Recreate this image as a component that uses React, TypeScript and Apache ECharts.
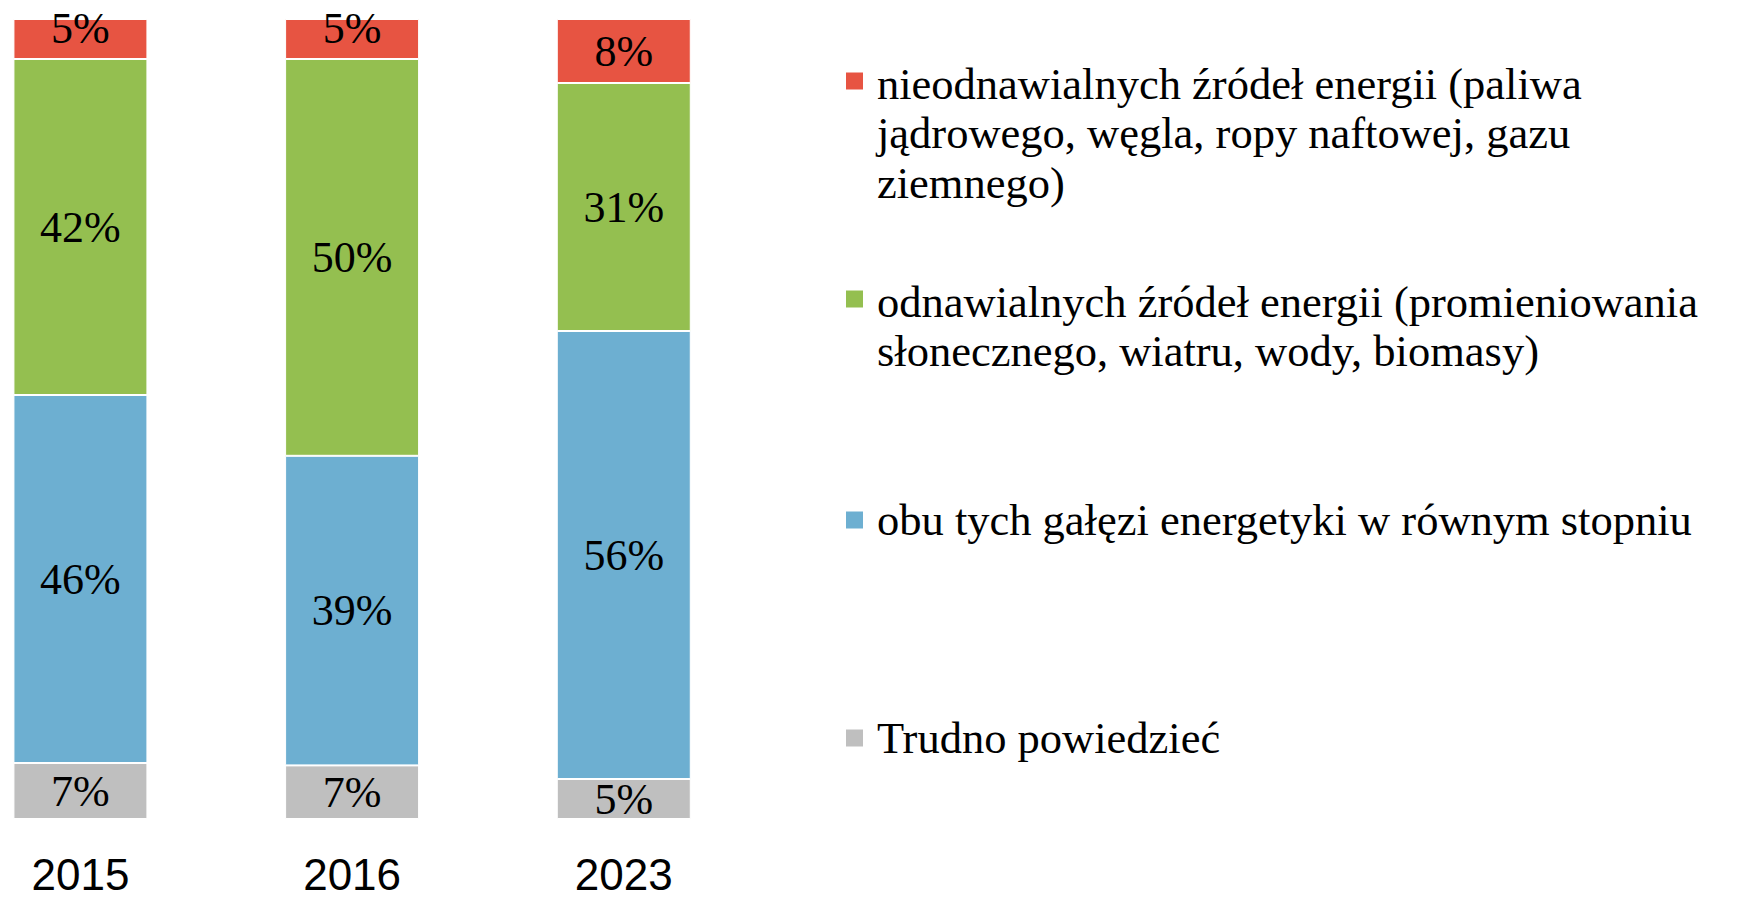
import React, { useEffect, useRef } from "react";
import * as echarts from "echarts";

const categories = ["2015", "2016", "2023"];
const seriesNames = [
  "nieodnawialnych źródeł energii (paliwa jądrowego, węgla, ropy naftowej, gazu ziemnego)",
  "odnawialnych źródeł energii (promieniowania słonecznego, wiatru, wody, biomasy)",
  "obu tych gałęzi energetyki w równym stopniu",
  "Trudno powiedzieć",
];
const legendLines = [
  ["nieodnawialnych źródeł energii (paliwa", "jądrowego, węgla, ropy naftowej, gazu", "ziemnego)"],
  ["odnawialnych źródeł energii (promieniowania", "słonecznego, wiatru, wody, biomasy)"],
  ["obu tych gałęzi energetyki w równym stopniu"],
  ["Trudno powiedzieć"],
];
const nonRenewable = [5, 5.0, 8];
const renewable = [42, 49.6, 31];
const both = [46, 38.7, 56];
const hardToSay = [7, 6.7, 5];
const colors = ["#E75442", "#94BF50", "#6DAFD1", "#BFBFBF"];

const SERIF = "'Liberation Serif', 'DejaVu Serif', serif";
const FS = 44.5;
const LH = 49.5;

export default function App() {
  const ref = useRef<HTMLDivElement>(null);
  useEffect(() => {
    if (!ref.current) return;
    const chart = echarts.init(ref.current, undefined, { renderer: "svg" });
    const mk = (idx: number, data: number[], offsets?: number[]) => ({
      name: seriesNames[idx],
      type: "bar",
      stack: "total",
      data: offsets
        ? data.map((v, i) => ({ value: v, label: { offset: [0, offsets[i]] } }))
        : data,
      barWidth: 134,
      itemStyle: { color: colors[idx], borderColor: "#ffffff", borderWidth: 1 },
      label: {
        show: true,
        position: "inside",
        formatter: (p: any) => Math.round(p.value) + "%",
        fontFamily: SERIF,
        fontSize: 44,
        color: "#000000",
      },
    });
    const legendTop = [59, 277, 495, 713];
    const squareCenter = [81, 299, 520, 738];
    const graphic: any[] = [];
    legendLines.forEach((lines, i) => {
      graphic.push({
        type: "rect",
        left: 846,
        top: squareCenter[i] - 8.5,
        shape: { width: 17, height: 17 },
        style: { fill: colors[i] },
      });
      graphic.push({
        type: "text",
        left: 877,
        top: legendTop[i],
        style: {
          text: lines.join("\n"),
          font: `${FS}px ${SERIF}`,
          lineHeight: LH,
          fill: "#000000",
        },
      });
    });
    chart.setOption({
      animation: false,
      grid: { left: -55.4, width: 815, top: 19, bottom: 81, outerBoundsMode: "none", containLabel: false },
      xAxis: {
        type: "category",
        data: categories,
        axisLine: { show: false },
        axisTick: { show: false },
        axisLabel: {
          margin: 33,
          fontSize: 44,
          fontFamily: "'Liberation Sans Narrow', 'Liberation Sans', Arial, sans-serif",
          color: "#000000",
        },
      },
      yAxis: { type: "value", min: 0, max: 100, show: false },
      series: [mk(3, hardToSay), mk(2, both), mk(1, renewable), mk(0, nonRenewable, [-11, -11, 0])],
      graphic,
    });
    return () => chart.dispose();
  }, []);
  return (
    <div
      ref={ref}
      style={{ position: "fixed", left: 0, top: 0, width: 1752, height: 900, background: "#ffffff" }}
    />
  );
}
